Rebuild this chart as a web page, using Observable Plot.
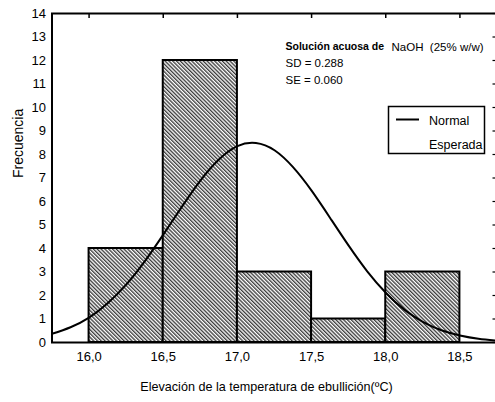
<!DOCTYPE html>
<html>
<head>
<meta charset="utf-8">
<script src="https://cdn.jsdelivr.net/npm/d3@7"></script>
<script src="https://cdn.jsdelivr.net/npm/@observablehq/plot@0.6"></script>
<style>
  html, body { margin: 0; padding: 0; background: #fff; overflow: hidden; width: 495px; height: 402px; }
  #chart { width: 495px; height: 402px; overflow: hidden; }
  #chart svg { font-family: "Liberation Sans", Arial, sans-serif; max-width: none !important; width: 502px !important; height: 402px !important; display: block; }
</style>
</head>
<body>
<div id="chart"></div>
<script>
// Histogram bins (temperature, ºC) and frequencies
const binStart = [16.0, 16.5, 17.0, 17.5, 18.0];
const binEnd   = [16.5, 17.0, 17.5, 18.0, 18.5];
const freq     = [4, 12, 3, 1, 3];

// Expected normal curve
const curveX = [15.75, 15.875, 16.0, 16.125, 16.25, 16.375, 16.5, 16.625, 16.75, 16.875, 17.0, 17.125, 17.25, 17.375, 17.5, 17.625, 17.75, 17.875, 18.0, 18.125, 18.25, 18.375, 18.5, 18.625, 18.75];
const curveY = [0.37, 0.65, 1.06, 1.67, 2.46, 3.45, 4.59, 5.77, 6.89, 7.79, 8.36, 8.49, 8.18, 7.46, 6.46, 5.30, 4.12, 3.03, 2.12, 1.40, 0.88, 0.52, 0.30, 0.16, 0.08];

// Tick labels
const xTicks = [16.0, 16.5, 17.0, 17.5, 18.0, 18.5];
const yTicks = [0,1,2,3,4,5,6,7,8,9,10,11,12,13,14];

const annotation1Bold = "Solución acuosa de";
const annotation1Rest = "NaOH  (25% w/w)";
const annotation2 = "SD = 0.288";
const annotation3 = "SE = 0.060";
const legendLabel = ["Normal", "Esperada"];
const xLabel = "Elevación de la temperatura de ebullición(ºC)";
const yLabel = "Frecuencia";

const bars = binStart.map((s, i) => ({x1: s, x2: binEnd[i], y: freq[i]}));
const curve = curveX.map((x, i) => ({x, y: curveY[i]}));

const plot = Plot.plot({
  width: 502,
  height: 402,
  marginTop: 13,
  marginBottom: 60,
  marginLeft: 51.5,
  marginRight: 5.5,
  style: {fontFamily: '"Liberation Sans", Arial, sans-serif', fontSize: "13px", background: "#fff"},
  x: {domain: [15.75, 18.75]},
  y: {domain: [0, 14]},
  marks: [
    Plot.rect(bars, {x1: "x1", x2: "x2", y1: 0, y2: "y", fill: "url(#hatch)", stroke: "#000", strokeWidth: 2}),
    Plot.line(curve, {x: "x", y: "y", stroke: "#000", strokeWidth: 2, curve: "natural", clip: true}),
    Plot.axisX({ticks: xTicks, tickSize: 0, tickPadding: 9, tickFormat: d => d.toFixed(1).replace(".", ","), label: null, fontSize: 13, fill: "#000"}),
    Plot.axisY({ticks: yTicks, tickSize: 0, tickPadding: 6, label: null, fontSize: 13, fill: "#000"}),
    Plot.text([yLabel], {text: d => d, frameAnchor: "left", dx: -33, rotate: -90, fontSize: 14, fill: "#000"}),
    Plot.tickX(xTicks, {x: d => d, stroke: "#000", strokeWidth: 1.5, insetBottom: 324}),
    Plot.tickY(yTicks, {y: d => d, stroke: "#000", strokeWidth: 1.2, insetLeft: 441}),
    Plot.text([xLabel], {text: d => d, frameAnchor: "bottom", dy: 48, dx: -8, fontSize: 12.6, fill: "#000"}),
    Plot.text([annotation1Bold], {text: d => d, frameAnchor: "top-left", dx: 233.5, dy: 29, fontSize: 10.5, fontWeight: "bold", textAnchor: "start", fill: "#000"}),
    Plot.text([annotation1Rest], {text: d => d, frameAnchor: "top-left", dx: 339.5, dy: 29, fontSize: 11.5, textAnchor: "start", fill: "#000"}),
    Plot.text([annotation2], {text: d => d, frameAnchor: "top-left", dx: 233.5, dy: 45.5, fontSize: 11.5, textAnchor: "start", fill: "#000"}),
    Plot.text([annotation3], {text: d => d, frameAnchor: "top-left", dx: 233.5, dy: 62, fontSize: 11.5, textAnchor: "start", fill: "#000"}),
    Plot.frame({stroke: "#000", strokeWidth: 2})
  ]
});

const svg = d3.select(plot);
const defs = svg.insert("defs", ":first-child");
const pat = defs.append("pattern")
  .attr("id", "hatch")
  .attr("patternUnits", "userSpaceOnUse")
  .attr("width", 2.7).attr("height", 2.7)
  .attr("patternTransform", "rotate(-45)");
pat.append("rect").attr("width", 2.7).attr("height", 2.7).attr("fill", "#fff");
pat.append("line").attr("x1", 0.7).attr("y1", 0).attr("x2", 0.7).attr("y2", 2.7)
  .attr("stroke", "#222").attr("stroke-width", 1.2);

// Legend box
const lg = svg.append("g").attr("font-family", '"Liberation Sans", Arial, sans-serif').attr("font-size", 12.5).attr("text-anchor", "start");
lg.append("rect").attr("x", 388.5).attr("y", 106.5).attr("width", 96).attr("height", 47)
  .attr("fill", "#fff").attr("stroke", "#000").attr("stroke-width", 1.5);
lg.append("line").attr("x1", 396).attr("x2", 419).attr("y1", 119.5).attr("y2", 119.5)
  .attr("stroke", "#000").attr("stroke-width", 2);
lg.append("text").attr("x", 429).attr("y", 124.5).attr("text-anchor", "start").text(legendLabel[0]);
lg.append("text").attr("x", 429).attr("y", 149).attr("text-anchor", "start").text(legendLabel[1]);

document.getElementById("chart").appendChild(plot);
</script>
</body>
</html>
